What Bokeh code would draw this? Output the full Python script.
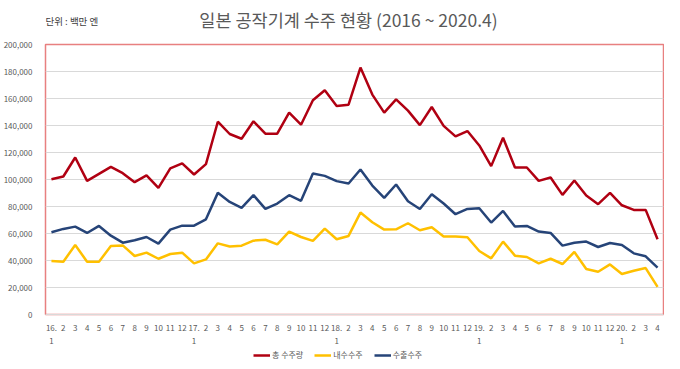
from bokeh.plotting import figure
from bokeh.models import (ColumnDataSource, FixedTicker, NumeralTickFormatter,
                          Label, Legend, LegendItem, Range1d)
from bokeh.layouts import column
from bokeh.embed import file_html
from bokeh.resources import INLINE

months = ["16.\n1", "2", "3", "4", "5", "6", "7", "8", "9", "10", "11", "12",
          "17.\n1", "2", "3", "4", "5", "6", "7", "8", "9", "10", "11", "12",
          "18.\n1", "2", "3", "4", "5", "6", "7", "8", "9", "10", "11", "12",
          "19.\n1", "2", "3", "4", "5", "6", "7", "8", "9", "10", "11", "12",
          "20.\n1", "2", "3", "4"]

total = [100.2, 102.2, 116.3, 99.0, 104.2, 109.4, 104.7, 98.0, 103.0, 93.8, 108.2, 111.9,
         103.7, 111.4, 142.8, 133.7, 130.2, 143.1, 133.9, 133.9, 149.5, 140.6, 158.7, 166.1,
         154.5, 155.4, 182.9, 162.9, 149.5, 159.4, 151.0, 140.3, 153.7, 139.7, 131.9, 135.9,
         125.2, 109.9, 130.9, 108.9, 108.9, 99.0, 101.5, 88.6, 99.3, 88.1, 81.7, 90.1,
         80.9, 77.5, 77.5, 55.7]

domestic = [39.6, 39.1, 51.5, 39.1, 39.1, 50.7, 51.2, 43.3, 45.8, 41.3, 44.8, 45.8,
            37.9, 40.8, 52.7, 50.4, 51.0, 54.7, 55.4, 52.0, 61.4, 57.4, 54.5, 63.6,
            55.7, 58.2, 75.5, 68.3, 62.9, 63.1, 67.6, 62.4, 64.6, 57.7, 57.7, 57.2,
            47.0, 41.6, 54.0, 43.6, 42.6, 37.9, 41.3, 37.4, 46.3, 33.7, 31.7, 37.1,
            30.0, 32.4, 34.4, 20.5]

export = [60.9, 63.4, 65.1, 60.4, 65.6, 58.4, 53.2, 55.0, 57.4, 52.5, 62.9, 65.8,
          65.8, 70.5, 90.1, 83.4, 79.0, 88.4, 78.2, 82.2, 88.4, 84.2, 104.5, 102.7,
          98.8, 97.0, 107.4, 95.5, 86.4, 96.3, 83.9, 78.2, 89.1, 82.2, 74.3, 78.2,
          78.7, 68.1, 76.7, 65.1, 65.6, 61.4, 60.4, 51.0, 53.2, 54.0, 50.0, 53.0,
          51.5, 45.3, 43.1, 34.7]

series_names = ["총 수주량", "내수수주", "수출수주"]
series_colors = ["#B00012", "#FFC000", "#264478"]
title_text = "일본 공작기계 수주 현황 (2016 ~ 2020.4)"
unit_text = "단위 : 백만 엔"

FONT = "Noto Sans CJK KR"
W = 664


def strip(height):
    f = figure(width=W, height=height, output_backend="svg", toolbar_location=None,
               x_range=Range1d(0, W), y_range=Range1d(0, height),
               x_axis_location=None, y_axis_location=None,
               min_border=0, min_border_left=0, min_border_right=0,
               min_border_top=0, min_border_bottom=0)
    f.grid.grid_line_color = None
    f.outline_line_color = None
    f.background_fill_color = "white"
    f.border_fill_color = "white"
    return f


x = list(range(len(months)))
src = ColumnDataSource(dict(
    x=x,
    total=[v * 1000 for v in total],
    domestic=[v * 1000 for v in domestic],
    export=[v * 1000 for v in export],
))

# ---- title strip ----
T_H = 34
t = strip(T_H)
t.add_layout(Label(x=303, y=T_H - 18.5, x_units="screen", y_units="screen", text=title_text,
                   text_font=FONT, text_font_size="17.5px", text_color="#595959",
                   text_align="center", text_baseline="middle"))
t.add_layout(Label(x=0, y=T_H - 20, x_units="screen", y_units="screen", text=unit_text,
                   text_font=FONT, text_font_size="9.5px", text_color="#404040",
                   text_align="left", text_baseline="middle"))

# ---- main chart ----
p = figure(width=W, height=316, output_backend="svg", toolbar_location=None,
           x_range=Range1d(-0.5, len(months) - 0.5), y_range=Range1d(0, 200000),
           min_border_left=36, min_border_right=1, min_border_top=10, min_border_bottom=36)

p.outline_line_color = "#E88080"
p.outline_line_width = 1.5
p.background_fill_color = "white"
p.border_fill_color = "white"

p.xgrid.grid_line_color = None
p.ygrid.grid_line_color = "#D9D9D9"
p.ygrid.grid_line_width = 1

p.yaxis.ticker = FixedTicker(ticks=list(range(0, 200001, 20000)))
p.yaxis.formatter = NumeralTickFormatter(format="0,0")
p.yaxis.axis_line_color = None
p.yaxis.major_tick_line_color = None
p.yaxis.minor_tick_line_color = None
p.yaxis.major_label_standoff = 7
p.yaxis.major_label_text_font = FONT
p.yaxis.major_label_text_font_size = "8px"
p.yaxis.major_label_text_color = "#595959"

p.xaxis.ticker = FixedTicker(ticks=x)
p.xaxis.major_label_overrides = {i: m for i, m in enumerate(months)}
p.xaxis.axis_line_color = "#D9D9D9"
p.xaxis.major_tick_line_color = None
p.xaxis.minor_tick_line_color = None
p.xaxis.major_label_standoff = 1
p.xaxis.major_label_text_font = FONT
p.xaxis.major_label_text_font_size = "8px"
p.xaxis.major_label_text_color = "#595959"

for col, color in zip(["total", "domestic", "export"], series_colors):
    p.line("x", col, source=src, line_color=color, line_width=2.5)

# ---- legend strip ----
q = strip(11)
nan_src = ColumnDataSource(dict(x=[float("nan")], y=[float("nan")]))
leg_renderers = [q.line("x", "y", source=nan_src, line_color=c, line_width=2.5) for c in series_colors]
legend = Legend(items=[LegendItem(label=n, renderers=[r]) for n, r in zip(series_names, leg_renderers)],
                orientation="horizontal", location=(208, 1),
                label_text_font=FONT, label_text_font_size="8px", label_text_color="#595959",
                glyph_width=17, glyph_height=8, label_standoff=2, spacing=11,
                padding=0, margin=0, border_line_color=None, background_fill_alpha=0,
                label_height=10)
q.add_layout(legend, "center")

layout = column(t, p, q, spacing=0)
open("out.html", "w").write(file_html(layout, INLINE))
